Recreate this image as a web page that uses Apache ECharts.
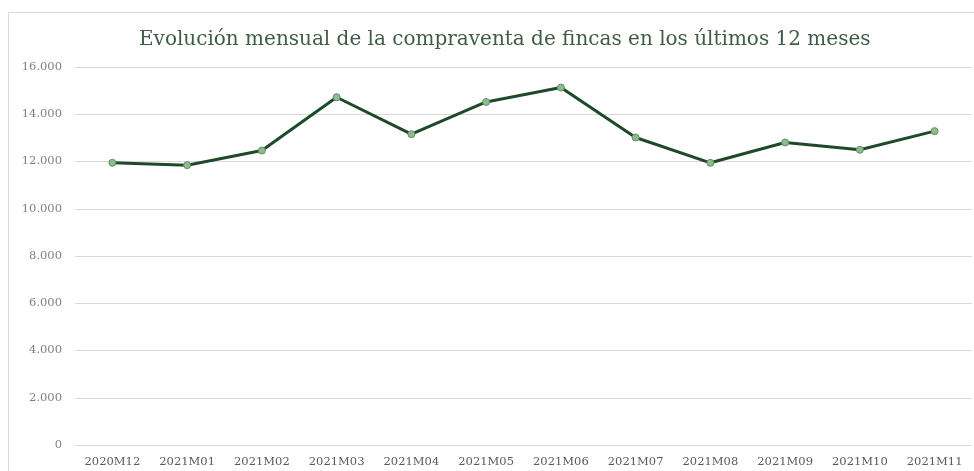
<!DOCTYPE html>
<html><head><meta charset="utf-8">
<script src="https://cdn.jsdelivr.net/npm/echarts@6/dist/echarts.min.js"></script>
<style>html,body{margin:0;padding:0;background:#fff}#c{width:974px;height:471px}</style>
</head><body><div id="c"></div>
<script>
const titleText = 'Evolución mensual de la compraventa de fincas en los últimos 12 meses';
const categories = ['2020M12','2021M01','2021M02','2021M03','2021M04','2021M05','2021M06','2021M07','2021M08','2021M09','2021M10','2021M11'];
const values = [11945, 11845, 12465, 14720, 13155, 14520, 15130, 13015, 11945, 12805, 12495, 13285];
const yTicks = {min: 0, max: 16000, interval: 2000};

const chart = echarts.init(document.getElementById('c'));
chart.setOption({
  animation: false,
  backgroundColor: '#fff',
  graphic: [{
    type: 'rect', shape: {x: 8.5, y: 12.5, width: 980, height: 470},
    style: {fill: 'none', stroke: '#d9d9d9', lineWidth: 1}, silent: true
  }],
  title: {
    text: titleText, left: 134, top: 25,
    textStyle: {fontFamily: 'DejaVu Serif', fontWeight: 'normal', fontSize: 20, color: '#3f5c47'}
  },
  grid: {left: 75, right: 2, top: 67, bottom: 26, containLabel: false},
  xAxis: {
    type: 'category', data: categories, boundaryGap: true,
    axisLine: {show: false}, axisTick: {show: false},
    axisLabel: {fontFamily: 'DejaVu Serif', fontSize: 11.5, color: '#595959', margin: 11}
  },
  yAxis: {
    type: 'value', min: yTicks.min, max: yTicks.max, interval: yTicks.interval,
    axisLine: {show: false}, axisTick: {show: false},
    splitLine: {lineStyle: {color: '#d9d9d9', width: 1}},
    axisLabel: {fontFamily: 'DejaVu Serif', fontSize: 11.5, color: '#7f7f7f', margin: 13,
      formatter: v => v === 0 ? '0' : (v/1000).toFixed(3)}
  },
  series: [{
    type: 'line', data: values,
    symbol: 'circle', symbolSize: 7,
    lineStyle: {color: '#1f4a2a', width: 3},
    itemStyle: {color: '#8dbb8e', borderColor: '#5f8f6a', borderWidth: 1}
  }]
});
</script></body></html>
